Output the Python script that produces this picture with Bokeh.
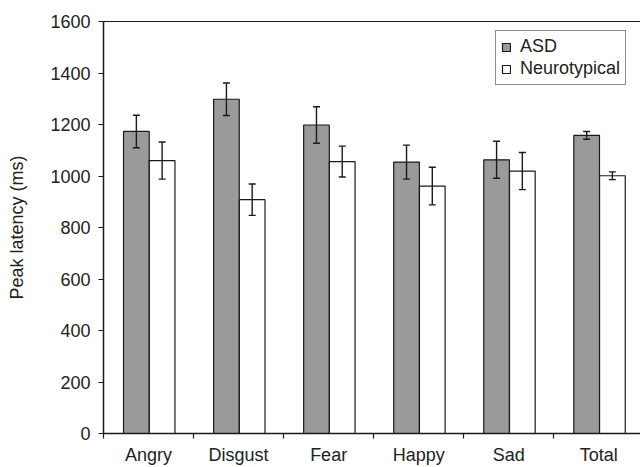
from bokeh.plotting import figure
from bokeh.models import (ColumnDataSource, Range1d, FixedTicker, Whisker, Legend,
                          LegendItem, LinearAxis)
from bokeh.embed import file_html
from bokeh.resources import INLINE

categories = ["Angry", "Disgust", "Fear", "Happy", "Sad", "Total"]
asd = [1173, 1298, 1198, 1054, 1063, 1158]
asd_err = [63, 63, 71, 66, 72, 15]
nt = [1060, 908, 1056, 961, 1019, 1001]
nt_err = [72, 61, 60, 73, 72, 15]
y_ticks = [0, 200, 400, 600, 800, 1000, 1200, 1400, 1600]

FONT = "Liberation Sans"
BAR_W = 0.285
OFF = 0.143
SHIFT = 0.008

idx = list(range(len(categories)))
centers = [i + 0.5 for i in idx]
src_a = ColumnDataSource(dict(
    x=[c + SHIFT - OFF for c in centers], top=asd,
    upper=[v + e for v, e in zip(asd, asd_err)],
    lower=[v - e for v, e in zip(asd, asd_err)]))
src_n = ColumnDataSource(dict(
    x=[c + SHIFT + OFF for c in centers], top=nt,
    upper=[v + e for v, e in zip(nt, nt_err)],
    lower=[v - e for v, e in zip(nt, nt_err)]))

p = figure(width=640, height=467, output_backend="svg", toolbar_location=None,
           x_range=Range1d(0, len(categories) - 0.037),
           y_range=Range1d(y_ticks[0], y_ticks[-1]),
           min_border_left=103, min_border_right=0, min_border_top=21,
           min_border_bottom=31)
p.outline_line_color = None
p.grid.visible = False
p.background_fill_color = "white"
p.border_fill_color = "white"

ra = p.vbar(x="x", top="top", width=BAR_W, bottom=0, source=src_a,
            fill_color="#999a9c", line_color="#1a1a1a", line_width=1.2)
rn = p.vbar(x="x", top="top", width=BAR_W, bottom=0, source=src_n,
            fill_color="white", line_color="#1a1a1a", line_width=1.2)

for s in (src_a, src_n):
    w = Whisker(source=s, base="x", upper="upper", lower="lower",
                line_color="#1a1a1a", line_width=1.4, level="overlay")
    for h in (w.upper_head, w.lower_head):
        h.size = 7
        h.line_color = "#1a1a1a"
        h.line_width = 1.4
    p.add_layout(w)

# x axis: labels at category centers, ticks at category boundaries
xa = p.xaxis[0]
xa.ticker = FixedTicker(ticks=centers, minor_ticks=list(range(len(categories))))
xa.major_label_overrides = {c: name for c, name in zip(centers, categories)}
xa.major_tick_line_color = None
xa.major_tick_out = 4
xa.major_tick_in = 0
xa.minor_tick_line_color = "#1a1a1a"
xa.minor_tick_out = 5
xa.minor_tick_in = 0
xa.minor_tick_line_width = 1.2
xa.axis_line_color = "#1a1a1a"
xa.axis_line_width = 1.5
xa.major_label_text_font = FONT
xa.major_label_text_font_size = "18px"
xa.major_label_text_color = "#222222"
xa.major_label_standoff = 6

ya = p.yaxis[0]
ya.ticker = FixedTicker(ticks=y_ticks)
ya.minor_tick_line_color = None
ya.major_tick_out = 5
ya.major_tick_in = 0
ya.major_tick_line_color = "#1a1a1a"
ya.major_tick_line_width = 1.2
ya.axis_line_color = "#1a1a1a"
ya.axis_line_width = 1.5
ya.major_label_text_font = FONT
ya.major_label_text_font_size = "18px"
ya.major_label_text_color = "#222222"
ya.major_label_standoff = 8
ya.axis_label = "Peak latency (ms)"
ya.axis_label_text_font = FONT
ya.axis_label_text_font_size = "18px"
ya.axis_label_text_font_style = "normal"
ya.axis_label_text_color = "#222222"
ya.axis_label_standoff = 20

# top frame line
top_axis = LinearAxis(ticker=FixedTicker(ticks=[], minor_ticks=[]),
                      major_label_text_font_size="0px",
                      axis_line_color="#1a1a1a", axis_line_width=1.2,
                      major_tick_out=0, major_tick_in=0, major_label_standoff=0,
                      minor_tick_out=0, minor_tick_in=0,
                      major_tick_line_color=None, minor_tick_line_color=None)
p.add_layout(top_axis, "above")

legend = Legend(items=[LegendItem(label="ASD", renderers=[ra]),
                       LegendItem(label="Neurotypical", renderers=[rn])],
                location=(392, 348))
legend.label_text_font = FONT
legend.label_text_font_size = "18px"
legend.label_text_color = "#222222"
legend.glyph_width = 10
legend.glyph_height = 10
legend.label_standoff = 9
legend.padding = 5
legend.spacing = 1
legend.margin = 0
legend.border_line_color = "#1a1a1a"
legend.border_line_width = 1.2
legend.label_height = 21
p.add_layout(legend, "center")

open("out.html", "w").write(file_html(p, INLINE))
